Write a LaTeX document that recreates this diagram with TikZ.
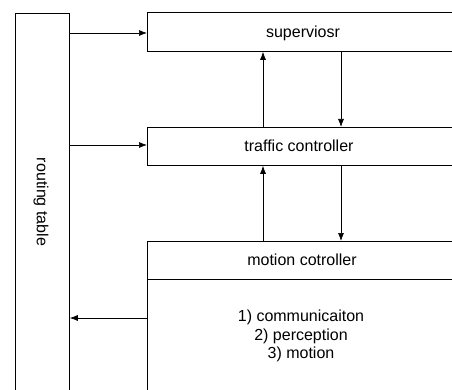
\documentclass[tikz,border=0pt]{standalone}
\usepackage{fontspec}
\setmainfont{Liberation Sans}
\usetikzlibrary{arrows.meta}
\tikzset{
  box/.style={draw, line width=0.8pt, anchor=north west, inner sep=0pt},
  lbl/.style={font=\fontsize{16}{18.5}\selectfont, inner sep=0pt, align=center},
  arr/.style={line width=0.7pt, -{Latex[length=8pt,width=6pt]}}
}
\begin{document}
\begin{tikzpicture}[x=1pt,y=-1pt]
\useasboundingbox (0,0) rectangle (452,390);
\clip (0,0) rectangle (452,390);
% routing table
\node[box, minimum width=54pt, minimum height=400pt] (rt) at (15,13) {};
\node[lbl, rotate=-90] (rtl) at (41,202) {routing table};
% boxes (open on the right, cut by the picture edge)
\node[box, minimum width=320pt, minimum height=39pt] (sup) at (147,12) {};
\node[lbl] (supl) at (303,33) {superviosr};
\node[box, minimum width=320pt, minimum height=38pt] (tc) at (147,127) {};
\node[lbl] (tcl) at (299,146) {traffic controller};
\node[box, minimum width=320pt, minimum height=38pt] (mc) at (147,241) {};
\node[lbl] (mcl) at (302,260) {motion cotroller};
\node[box, minimum width=320pt, minimum height=130pt] (mb) at (147,279) {};
\node[lbl] (list) at (301,336) {1) communicaiton\\2) perception\\3) motion};
% connectors
\coordinate (a1) at (rt.east |- 0,33);
\coordinate (a2) at (rt.east |- 0,145);
\coordinate (a3) at (mb.west |- 0,318);
\draw[arr] (a1) -- (sup.west |- a1);
\draw[arr] (a2) -- (tc.west |- a2);
\draw[arr] (a3) -- (rt.east |- a3);
\coordinate (u) at (263,0);
\coordinate (d) at (341,0);
\draw[arr] (tc.north -| u) -- (sup.south -| u);
\draw[arr] (sup.south -| d) -- (tc.north -| d);
\draw[arr] (mc.north -| u) -- (tc.south -| u);
\draw[arr] (tc.south -| d) -- (mc.north -| d);
\end{tikzpicture}
\end{document}
